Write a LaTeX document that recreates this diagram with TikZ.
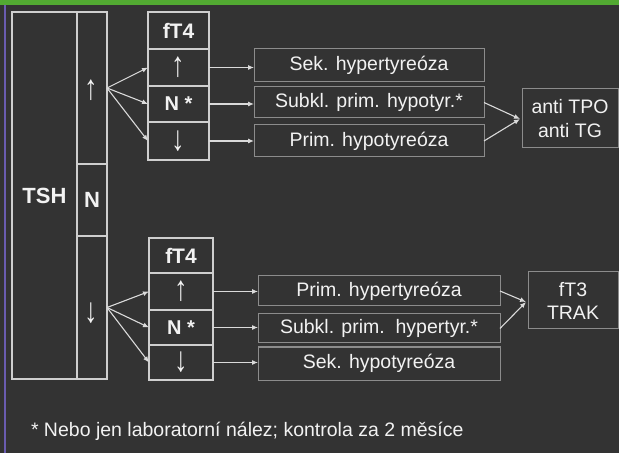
\documentclass[tikz,border=0pt]{standalone}
\usepackage{fontspec}
\setmainfont{Liberation Sans}
\usetikzlibrary{arrows.meta}
\definecolor{bgdark}{HTML}{333333}
\definecolor{topbar}{HTML}{52AA32}
\definecolor{sidebar}{HTML}{6A5CB0}
\definecolor{mainline}{HTML}{CFCFCF}
\definecolor{resline}{HTML}{8C8C8C}
\definecolor{linkcol}{HTML}{DADADA}
\definecolor{txt}{HTML}{F2F2F2}
% tall arrow glyphs for the level cells
\newcommand{\upa}{\scalebox{1.35}[1.75]{\bfseries ↑}}
\newcommand{\downa}{\scalebox{1.35}[1.75]{\bfseries ↓}}
\begin{document}
\begin{tikzpicture}[x=1pt,y=-1pt,
  every node/.style={text=txt, inner sep=0pt, outer sep=0pt},
  cellbox/.style={draw=mainline, line width=1.5pt, rectangle, font=\fontsize{21}{24}\selectfont\bfseries},
  arrowtxt/.style={font=\fontsize{20}{24}\selectfont},
  resbox/.style={draw=resline, line width=1pt, rectangle, font=\fontsize{19.5}{24}\selectfont},
  testbox/.style={resbox, align=center},
  link/.style={draw=linkcol, line width=1.1pt, -{Latex[length=6pt,width=5pt]}},
  note/.style={font=\fontsize{19.5}{24}\selectfont, anchor=west}
]
% page and frame
\useasboundingbox (0,0) rectangle (619,457);
\fill[white] (0,0) rectangle (619,457);
\fill[bgdark] (0,5) rectangle (619,453);
\fill[topbar] (0,0) rectangle (619,5);
\fill[sidebar] (4,5) rectangle (6,453);

% TSH column
\node[cellbox, minimum width=65pt, minimum height=367pt, font=\fontsize{22}{24}\selectfont\bfseries] (tsh) at (44.5,195.5) {TSH};
\node[cellbox, minimum width=30pt, minimum height=152pt] (tshup) at (92,88) {};
\node[arrowtxt] at (91,90) {\upa};
\node[cellbox, minimum width=30pt, minimum height=72pt, font=\fontsize{22}{24}\selectfont\bfseries] (tshn) at (92,200) {N};
\node[cellbox, minimum width=30pt, minimum height=143pt] (tshdown) at (92,307.5) {};
\node[arrowtxt] at (91,313) {\downa};

% upper fT4 column
\node[cellbox, minimum width=61pt, minimum height=37pt] (ahead) at (178.5,30.5) {fT4};
\node[cellbox, arrowtxt, minimum width=61pt, minimum height=37pt] (aup) at (178.5,67.5) {\upa};
\node[cellbox, minimum width=61pt, minimum height=36pt, font=\fontsize{20}{24}\selectfont\bfseries] (an) at (178.5,104) {N *};
\node[cellbox, arrowtxt, minimum width=61pt, minimum height=38pt] (adown) at (178.5,141) {\downa};

% lower fT4 column
\node[cellbox, minimum width=64pt, minimum height=35pt] (bhead) at (181,255.5) {fT4};
\node[cellbox, arrowtxt, minimum width=64pt, minimum height=37pt] (bup) at (181,291.5) {\upa};
\node[cellbox, minimum width=64pt, minimum height=35pt, font=\fontsize{20}{24}\selectfont\bfseries] (bn) at (181,327.5) {N *};
\node[cellbox, arrowtxt, minimum width=64pt, minimum height=35pt] (bdown) at (181,362.5) {\downa};

% upper results
\node[resbox, minimum width=230pt, minimum height=33pt] (sekhyper) at (369,65.5) {Sek. hypertyreóza};
\node[resbox, minimum width=230pt, minimum height=31pt] (subhypo) at (369,102.5) {Subkl. prim. hypotyr.*};
\node[resbox, minimum width=230pt, minimum height=32pt] (primhypo) at (369,141) {Prim. hypotyreóza};
\node[testbox, minimum width=96pt, minimum height=59pt] (anti) at (570,118.5) {anti TPO\\[-0.5pt]anti TG};

% lower results
\node[resbox, minimum width=242pt, minimum height=30pt] (primhyper) at (379,291) {Prim. hypertyreóza};
\node[resbox, minimum width=242pt, minimum height=29pt] (subhyper) at (379,328.5) {Subkl. prim.\ \ hypertyr.*};
\node[resbox, minimum width=242pt, minimum height=33pt] (sekhypo) at (379,363.5) {Sek. hypotyreóza};
\node[testbox, minimum width=90pt, minimum height=57pt] (trak) at (573,300.5) {fT3\\[-1pt]TRAK};

% TSH to fT4
\draw[link] (tshup.east) -- (aup.west);
\draw[link] (tshup.east) -- (an.west);
\draw[link] (tshup.east) -- (adown.west);
\draw[link] (tshdown.east) -- (bup.west);
\draw[link] (tshdown.east) -- (bn.west);
\draw[link] (tshdown.east) -- (bdown.west);

% fT4 to diagnoses
\draw[link] (aup.east) -- (aup.east -| sekhyper.west);
\draw[link] (an.east) -- (an.east -| subhypo.west);
\draw[link] (adown.east) -- (adown.east -| primhypo.west);
\draw[link] (bup.east) -- (bup.east -| primhyper.west);
\draw[link] (bn.east) -- (bn.east -| subhyper.west);
\draw[link] (bdown.east) -- (bdown.east -| sekhypo.west);

% diagnoses to follow-up tests
\coordinate (m1) at (520,119);
\coordinate (m2) at (526,302);
\draw[link] (subhypo.east) -- (m1);
\draw[link] (primhypo.east) -- (m1);
\draw[link] (primhyper.east) -- (m2);
\draw[link] (subhyper.east) -- (m2);

% footnote
\node[note] (fn) at (31,431) {* Nebo jen laboratorní nález; kontrola za 2 měsíce};
\end{tikzpicture}
\end{document}
